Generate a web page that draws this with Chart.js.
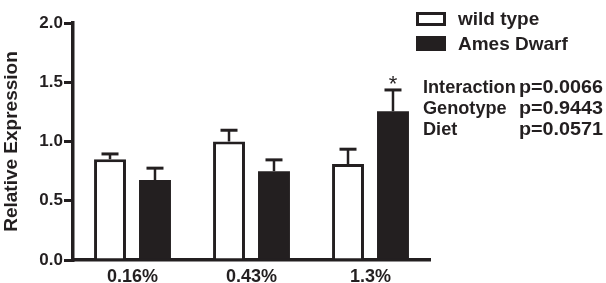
<!DOCTYPE html>
<html>
<head>
<meta charset="utf-8">
<script src="https://cdn.jsdelivr.net/npm/chart.js@4/dist/chart.umd.min.js"></script>
<style>
  html, body { margin: 0; padding: 0; background: #ffffff; }
  #wrap { width: 606px; height: 283px; position: relative; }
</style>
</head>
<body>
<div id="wrap"><canvas id="c" width="606" height="283"></canvas></div>
<script>
// ---- data ----
const categories = ['0.16%', '0.43%', '1.3%'];
const wildType = [0.85, 1.00, 0.81];
const wildTypeErr = [0.045, 0.095, 0.125];
const amesDwarf = [0.675, 0.75, 1.255];
const amesDwarfErr = [0.10, 0.095, 0.18];
const amesMarks = ['', '', '*'];
const yTicks = [0, 0.5, 1.0, 1.5, 2.0];
const legendLabels = ['wild type', 'Ames Dwarf'];
const statNames = ['Interaction', 'Genotype', 'Diet'];
const statValues = ['p=0.0066', 'p=0.9443', 'p=0.0571'];

const INK = '#231f20';
const FONT = '"Liberation Sans", Arial, Helvetica, sans-serif';

const errorBars = {
  id: 'errorBars',
  afterDatasetsDraw(chart) {
    const ctx = chart.ctx;
    const yScale = chart.scales.y;
    chart.data.datasets.forEach((ds, di) => {
      const meta = chart.getDatasetMeta(di);
      meta.data.forEach((bar, i) => {
        const top = yScale.getPixelForValue(ds.data[i] + ds.errors[i]);
        ctx.save();
        ctx.strokeStyle = INK;
        ctx.lineWidth = 2.5;
        ctx.beginPath();
        ctx.moveTo(bar.x, bar.y);
        ctx.lineTo(bar.x, top);
        ctx.stroke();
        ctx.lineWidth = 3;
        ctx.beginPath();
        ctx.moveTo(bar.x - 8.5, top);
        ctx.lineTo(bar.x + 8.5, top);
        ctx.stroke();
        if (ds.marks && ds.marks[i]) {
          ctx.fillStyle = INK;
          ctx.font = '22px ' + FONT;
          ctx.textAlign = 'center';
          ctx.textBaseline = 'alphabetic';
          ctx.fillText(ds.marks[i], bar.x, top + 1);
        }
        ctx.restore();
      });
    });
  }
};

const sideText = {
  id: 'sideText',
  afterDraw(chart) {
    const ctx = chart.ctx;
    ctx.save();
    // legend
    ctx.strokeStyle = INK;
    ctx.lineWidth = 3;
    ctx.strokeRect(417.5, 13.5, 27, 11);
    ctx.fillStyle = INK;
    ctx.fillRect(416, 36, 30, 15);
    ctx.font = 'bold 19px ' + FONT;
    ctx.textAlign = 'left';
    ctx.textBaseline = 'alphabetic';
    ctx.fillText(legendLabels[0], 458, 25);
    ctx.fillText(legendLabels[1], 458, 50);
    // statistics
    const base = [93, 114, 135];
    statNames.forEach((n, i) => {
      ctx.font = 'bold 19px ' + FONT;
      ctx.save();
      ctx.translate(423, base[i]);
      ctx.scale(0.955, 1);
      ctx.fillText(n, 0, 0);
      ctx.restore();
      ctx.save();
      ctx.translate(519, base[i]);
      ctx.scale(1.04, 1);
      ctx.fillText(statValues[i], 0, 0);
      ctx.restore();
    });
    ctx.restore();
  }
};

new Chart(document.getElementById('c'), {
  type: 'bar',
  data: {
    labels: categories,
    datasets: [
      {
        label: legendLabels[0],
        data: wildType,
        errors: wildTypeErr,
        backgroundColor: '#ffffff',
        borderColor: INK,
        borderWidth: 3,
        borderSkipped: 'start'
      },
      {
        label: legendLabels[1],
        data: amesDwarf,
        errors: amesDwarfErr,
        marks: amesMarks,
        backgroundColor: INK,
        borderColor: INK,
        borderWidth: 0
      }
    ]
  },
  options: {
    responsive: false,
    devicePixelRatio: 1,
    animation: false,
    categoryPercentage: 0.756,
    barPercentage: 0.71,
    layout: { padding: { top: 23, right: 176, left: 0, bottom: 0 } },
    plugins: { legend: { display: false }, tooltip: { enabled: false } },
    scales: {
      x: {
        grid: { display: false },
        border: { display: true, width: 3.5, color: INK },
        ticks: { color: INK, font: { family: FONT, size: 18, weight: 'bold' }, padding: -2 },
        afterFit(s) { s.height = 23; }
      },
      y: {
        min: 0,
        max: 2,
        afterBuildTicks(s) { s.ticks = yTicks.map(v => ({ value: v })); },
        grid: { display: true, drawOnChartArea: false, drawTicks: true, tickLength: 9, lineWidth: 3, color: INK },
        border: { display: true, width: 3.5, color: INK },
        ticks: {
          color: INK,
          font: { family: FONT, size: 17, weight: 'bold' },
          padding: 1,
          callback: v => Number(v).toFixed(1)
        },
        title: {
          display: true,
          text: 'Relative Expression',
          color: INK,
          font: { family: FONT, size: 19, weight: 'bold' },
          padding: { top: 0, bottom: 0 }
        },
        afterFit(s) { s.width = 73; }
      }
    }
  },
  plugins: [errorBars, sideText]
});
</script>
</body>
</html>
